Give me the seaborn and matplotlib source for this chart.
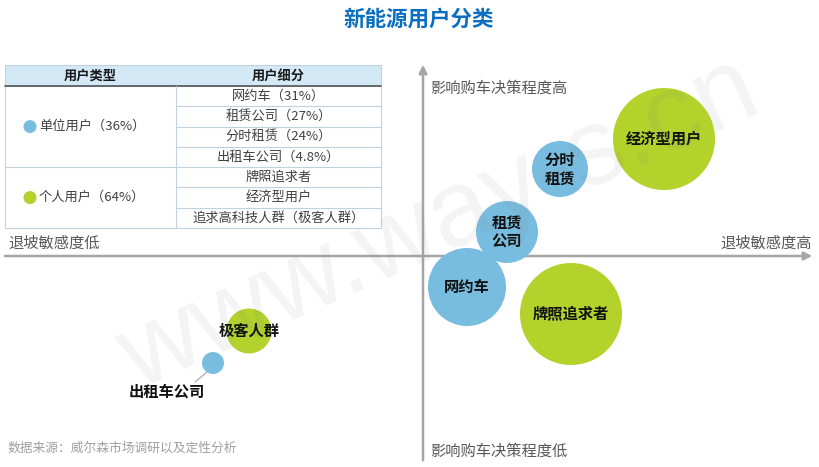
import numpy as np
import pandas as pd
import seaborn as sns
import matplotlib.pyplot as plt
from matplotlib.patches import Rectangle, Circle

sns.set_theme(style='white')
plt.rcParams['font.family'] = ['Noto Sans CJK SC', 'DejaVu Sans']

# bubble data: x = 退坡敏感度, y = 影响购车决策程度 (origin at axis crossing), r = bubble radius
names = ['经济型用户', '分时\n租赁', '租赁\n公司', '网约车', '牌照追求者', '极客人群', '出租车公司']
groups = ['个人', '单位', '单位', '单位', '个人', '个人', '单位']
x_vals = [241, 137, 84, 44, 148, -174, -210]
y_vals = [117, 87, 24, -31, -58, -75, -107]
radius = [51, 28, 31, 39, 51, 22.5, 11]

# table content
type_labels = ['单位用户（36%）', '个人用户（64%）']
sub_labels = ['网约车（31%）', '租赁公司（27%）', '分时租赁（24%）', '出租车公司（4.8%）',
              '牌照追求者', '经济型用户', '追求高科技人群（极客人群）']

blue = '#78bddf'
green = '#b3d22c'
palette = {'单位': blue, '个人': green}
grey_axis = '#a6a6a6'
text_grey = '#595959'

df = pd.DataFrame({'name': names, 'group': groups, 'x': x_vals, 'y': y_vals, 'r': radius})
# radius in px -> marker area in pt^2 (dpi 100)
df['s'] = (2 * df['r'] * 0.72) ** 2

fig = plt.figure(figsize=(8.2, 4.67), dpi=100)
ax = fig.add_axes([0, 0, 1, 1])
ax.set_xlim(-423, 397)
ax.set_ylim(-211, 256)
ax.axis('off')

# axes with arrows
ax.annotate('', xy=(392, 0), xytext=(-421, 0),
            arrowprops=dict(arrowstyle='-|>', color=grey_axis, lw=1.8, mutation_scale=12))
ax.annotate('', xy=(0, 194), xytext=(0, -207),
            arrowprops=dict(arrowstyle='-|>', color=grey_axis, lw=1.8, mutation_scale=12))

sns.scatterplot(data=df, x='x', y='y', hue='group', palette=palette, s=df['s'],
                edgecolor='none', legend=False, ax=ax, zorder=3)

for _, row in df.iterrows():
    if row['name'] == '出租车公司':
        continue
    ax.text(row['x'], row['y'], row['name'], ha='center', va='center', fontsize=11,
            fontweight='bold', color='#111111', zorder=4, linespacing=1.25)

# leader label for 出租车公司
taxi = df[df['name'] == '出租车公司'].iloc[0]
ax.plot([taxi['x'] - 6, taxi['x'] - 18], [taxi['y'] - 9, taxi['y'] - 19], color='#999999', lw=0.7, zorder=2)
ax.text(taxi['x'] - 46, taxi['y'] - 29, '出租车公司', ha='center', va='center', fontsize=11,
        fontweight='bold', color='#111111')

# quadrant labels
ax.text(7, 168, '影响购车决策程度高', ha='left', va='center', fontsize=11, color=text_grey)
ax.text(7, -195, '影响购车决策程度低', ha='left', va='center', fontsize=11, color=text_grey)
ax.text(389, 13, '退坡敏感度高', ha='right', va='center', fontsize=11, color=text_grey)
ax.text(-415, 13, '退坡敏感度低', ha='left', va='center', fontsize=11, color=text_grey)

# overlay in pixel coordinates for title, table, notes
ov = fig.add_axes([0, 0, 1, 1], facecolor='none')
ov.set_xlim(0, 820)
ov.set_ylim(467, 0)
ov.axis('off')

ov.text(419, 19, '新能源用户分类', ha='center', va='center', fontsize=15.5,
        fontweight='bold', color='#0b6fc1')
ov.text(8, 448, '数据来源：威尔森市场调研以及定性分析', ha='left', va='center',
        fontsize=9.2, color='#a0a0a0')

# table
x0, x1, xm = 5, 381, 176
y_top, y_head = 65, 86
row_h = (228 - y_head) / 7
line_c = '#c2d2dc'
ov.add_patch(Rectangle((x0, y_top), x1 - x0, y_head - y_top, facecolor='#d4e9f6',
                       edgecolor=line_c, lw=0.8))
ov.add_patch(Rectangle((x0, y_head), x1 - x0, 228 - y_head, facecolor='white',
                       edgecolor=line_c, lw=0.8))
ov.plot([x0, x1], [y_head, y_head], color='#555555', lw=1.2)
ov.plot([xm, xm], [y_head, 228], color=line_c, lw=0.8)
for i in range(1, 7):
    yy = y_head + i * row_h
    ov.plot([x0 if i == 4 else xm, x1], [yy, yy], color=line_c, lw=0.8)
ov.text((x0 + xm) / 2, (y_top + y_head) / 2, '用户类型', ha='center', va='center',
        fontsize=9.5, fontweight='bold', color='#1a1a1a')
ov.text((xm + x1) / 2, (y_top + y_head) / 2, '用户细分', ha='center', va='center',
        fontsize=9.5, fontweight='bold', color='#1a1a1a')
for i, lab in enumerate(sub_labels):
    ov.text((xm + x1) / 2, y_head + (i + 0.5) * row_h, lab, ha='center', va='center',
            fontsize=9.5, color='#404040')
for lab, col, yc in zip(type_labels, [blue, green],
                        [y_head + 2 * row_h, y_head + 5.5 * row_h]):
    ov.add_patch(Circle((30, yc), 6.5, facecolor=col, edgecolor='none'))
    ov.text(39, yc, lab, ha='left', va='center', fontsize=9.5, color='#404040')

# watermark
ov.text(440, 225, 'www.way-s.cn', ha='center', va='center', fontsize=78, rotation=24,
        color='#808080', alpha=0.09, family='Liberation Sans', zorder=10)

fig.savefig('out.png', dpi=100)
